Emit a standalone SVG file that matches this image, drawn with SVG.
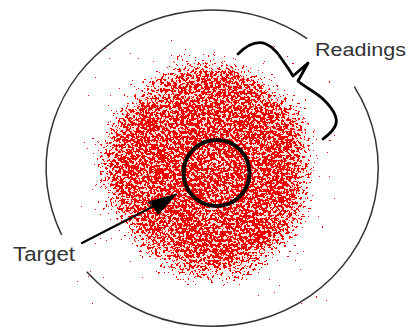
<svg xmlns="http://www.w3.org/2000/svg" width="410" height="329" viewBox="0 0 410 329">
  <defs>
    <style>
      .outline { fill: none; stroke: #333; stroke-width: 1.5; }
      .label { font-family: "Liberation Sans", Arial, sans-serif; fill: #333; }
      .ink { fill: none; stroke: #000; stroke-linecap: round; stroke-linejoin: round; }
    </style>
    <filter id="speck" filterUnits="userSpaceOnUse" x="75" y="40" width="260" height="265" color-interpolation-filters="sRGB">
      <feGaussianBlur in="SourceAlpha" stdDeviation="12" result="soft0"/>
      <feTurbulence type="fractalNoise" baseFrequency="0.045" numOctaves="2" seed="3" result="lowraw"/>
      <feColorMatrix in="lowraw" type="matrix" values="0 0 0 0 0  0 0 0 0 0  0 0 0 0 0  1 0 0 0 0" result="low"/>
      <feComposite in="soft0" in2="low" operator="arithmetic" k1="0" k2="0.9" k3="0.4" k4="-0.18" result="soft"/>
      <feTurbulence type="fractalNoise" baseFrequency="0.38" numOctaves="3" seed="7" result="noise"/>
      <feColorMatrix in="noise" type="matrix" values="0 0 0 0 0  0 0 0 0 0  0 0 0 0 0  1 0 0 0 0" result="n"/>
      <feComposite in="n" in2="soft" operator="arithmetic" k1="0" k2="3" k3="1.25" k4="-2.02" result="sum"/>
      <feComponentTransfer in="sum" result="mask"><feFuncA type="discrete" tableValues="0 1"/></feComponentTransfer>
      <feFlood flood-color="#f00000"/>
      <feComposite in2="mask" operator="in" result="dots"/>
      <feFlood flood-color="#f7b4aa"/>
      <feComposite in2="soft" operator="in" result="pinkfull"/>
      <feComponentTransfer in="pinkfull" result="pink"><feFuncA type="table" tableValues="0 0 0 0.15 0.35 0.45"/></feComponentTransfer>
      <feMerge><feMergeNode in="pink"/><feMergeNode in="dots"/></feMerge>
    </filter>
  </defs>
  <rect width="410" height="329" fill="#fff"/>

  <g id="outer-ring">
    <path class="outline" d="M354.3,86.6 A166,158 0 0 1 86.7,271.7"/>
    <path class="outline" d="M61.6,234.8 A166,158 0 0 1 307.2,38.6"/>
  </g>

  <g id="readings-cloud" filter="url(#speck)">
    <path fill="#f00" transform="translate(205,170) scale(0.97) translate(-205,-170)"
      d="M185,58 L215,57 L240,60 L267,78 L290,95 L305,112 L313,133 L313,165 L312,200 L300,233 L280,257 L253,277 L217,283 L173,277 L147,260 L127,233 L107,207 L95,167 L98,140 L108,118 L125,100 L145,83 L165,65 Z"/>
  </g>

  <g id="target">
    <circle cx="216.5" cy="173" r="33" fill="none" stroke="#000" stroke-width="4"/>
  </g>

  <g id="connectors">
    <line class="ink" x1="82" y1="243" x2="154" y2="206" stroke-width="2.2"/>
    <polygon points="178,193 147,202 153,207 158,215" fill="#000"/>
    <path class="ink" stroke-width="2.8" d="M238,54 C246,46 256,40 266,44 C276,48 282,60 288,68 L293,76 L308,63 L298,81 C306,88 316,92 324,100 C332,108 338,116 336,124 C334,131 328,135 323,139"/>
  </g>

  <g id="label-readings">
    <text class="label" x="315" y="56" font-size="18" textLength="91" lengthAdjust="spacingAndGlyphs">Readings</text>
  </g>
  <g id="label-target">
    <text class="label" x="13" y="261" font-size="20" textLength="62" lengthAdjust="spacingAndGlyphs">Target</text>
  </g>
</svg>
